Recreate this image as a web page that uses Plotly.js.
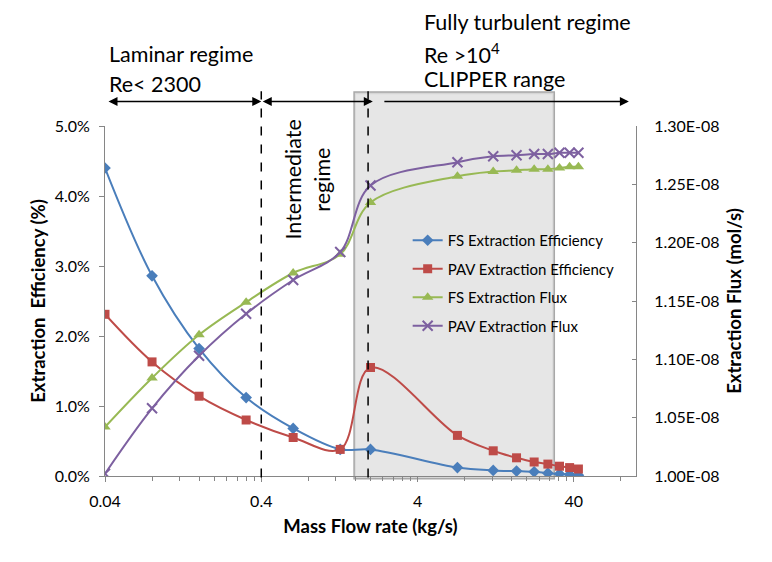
<!DOCTYPE html>
<html>
<head>
<meta charset="utf-8">
<script src="https://cdn.plot.ly/plotly-3.0.1.min.js"></script>
<style>
  body { margin: 0; background: #fff; }
  #chart { width: 772px; height: 562px; }
</style>
</head>
<body>
<div id="chart"></div>
<script>
// mass flow rate (kg/s)
var flowRate = [0.04, 0.08, 0.16, 0.32, 0.64, 1.28, 2.0, 7.2, 12.2, 17.2, 22.3, 27.3, 32.4, 37.6, 42.8];

// extraction efficiency (%)
var fsEff  = [4.40, 2.86, 1.82, 1.12, 0.68, 0.38, 0.38, 0.12, 0.08, 0.07, 0.06, 0.04, 0.03, 0.02, 0.01];
var pavEff = [2.31, 1.63, 1.14, 0.80, 0.55, 0.38, 1.55, 0.58, 0.36, 0.26, 0.20, 0.17, 0.14, 0.12, 0.10];

// extraction flux (mol/s)
var fsFlux  = [1.042e-8, 1.084e-8, 1.121e-8, 1.149e-8, 1.174e-8, 1.190e-8, 1.2345e-8, 1.257e-8,
               1.261e-8, 1.262e-8, 1.263e-8, 1.263e-8, 1.264e-8, 1.265e-8, 1.265e-8];
var pavFlux = [1.002e-8, 1.058e-8, 1.103e-8, 1.139e-8, 1.168e-8, 1.192e-8, 1.249e-8, 1.269e-8,
               1.274e-8, 1.275e-8, 1.276e-8, 1.276e-8, 1.277e-8, 1.277e-8, 1.277e-8];

// tick labels
var xTickVals = [0.04, 0.4, 4, 40];
var xTickText = ['0.04', '0.4', '4', '40'];
var effTickVals = [0, 1, 2, 3, 4, 5];
var effTickText = ['0.0%', '1.0%', '2.0%', '3.0%', '4.0%', '5.0%'];
var fluxTickVals = [1.00e-8, 1.05e-8, 1.10e-8, 1.15e-8, 1.20e-8, 1.25e-8, 1.30e-8];
var fluxTickText = ['1.00E-08', '1.05E-08', '1.10E-08', '1.15E-08', '1.20E-08', '1.25E-08', '1.30E-08'];

var FONT = 'Lato, "Open Sans", sans-serif';
var AXIS = '#868686';

// minor ticks like excel: multiples of each major value
var minorVals = [];
xTickVals.forEach(function (m) {
    for (var k = 2; k <= 9; k++) minorVals.push(m * k);
});

var traces = [
    {
        x: flowRate, y: fsEff, name: 'FS Extraction Efficiency',
        type: 'scatter', mode: 'lines+markers', legendgroup: 'a',
        line: {color: '#4a7ebb', width: 2, shape: 'spline'},
        marker: {symbol: 'diamond', size: 9, color: '#4a7ebb'}
    },
    {
        x: flowRate, y: pavEff, name: 'PAV Extraction Efficiency',
        type: 'scatter', mode: 'lines+markers', legendgroup: 'b',
        line: {color: '#be4b48', width: 2, shape: 'spline'},
        marker: {symbol: 'square', size: 9, color: '#be4b48'}
    },
    {
        x: flowRate, y: fsFlux, name: 'FS Extraction Flux', yaxis: 'y2',
        type: 'scatter', mode: 'lines+markers', legendgroup: 'c',
        line: {color: '#98b954', width: 2, shape: 'spline'},
        marker: {symbol: 'triangle-up', size: 10, color: '#98b954'}
    },
    {
        x: flowRate, y: pavFlux, name: 'PAV Extraction Flux', yaxis: 'y2',
        type: 'scatter', mode: 'lines+markers', legendgroup: 'd',
        line: {color: '#7d60a0', width: 2, shape: 'spline'},
        marker: {symbol: 'x-thin', size: 10, color: '#7d60a0', line: {color: '#7d60a0', width: 2}}
    }
];

var dash = {color: '#000', width: 1.5, dash: 'dash'};
var lg = Math.log10;  // annotations on a log axis take log positions

function arrow(from, to, both) {
    return {xref: 'x', yref: 'paper', x: lg(to), y: 1.07, axref: 'x', ayref: 'pixel', ax: lg(from), ay: 0,
            text: '', showarrow: true, arrowside: both ? 'end+start' : 'end',
            arrowhead: 2, arrowsize: 1.2, arrowwidth: 1.5, arrowcolor: '#000', standoff: 0, startstandoff: 0};
}

var layout = {
    width: 772,
    height: 562,
    margin: {l: 105, r: 136, t: 126, b: 86},
    paper_bgcolor: '#fff',
    plot_bgcolor: '#fff',
    font: {family: FONT, size: 16, color: '#000'},
    showlegend: true,
    legend: {
        x: 0.57, y: 0.72, xanchor: 'left', yanchor: 'top',
        bgcolor: 'rgba(0,0,0,0)', tracegroupgap: 6,
        font: {family: FONT, size: 15, color: '#000'}
    },
    xaxis: {
        type: 'log',
        range: [Math.log10(0.04), 2],
        showline: true, linecolor: AXIS, linewidth: 1,
        ticks: 'outside', ticklen: 5, tickcolor: AXIS, ticklabelstandoff: 6,
        tickmode: 'array', tickvals: xTickVals, ticktext: xTickText,
        minor: {tickmode: 'array', tickvals: minorVals, ticks: 'outside', ticklen: 4, tickcolor: AXIS, showgrid: false},
        showgrid: false, zeroline: false,
        title: {text: '<b>Mass Flow rate (kg/s)</b>', font: {size: 18.5}, standoff: 10}
    },
    yaxis: {
        range: [0, 5],
        showline: true, linecolor: AXIS, linewidth: 1,
        ticks: 'outside', ticklen: 5, tickcolor: AXIS, ticklabelstandoff: 6,
        tickmode: 'array', tickvals: effTickVals, ticktext: effTickText,
        showgrid: false, zeroline: false,
        title: {text: '<b>Extraction  Efficiency (%)</b>', font: {size: 18.5}, standoff: 4}
    },
    yaxis2: {
        overlaying: 'y', side: 'right',
        range: [1.0e-8, 1.3e-8],
        showline: true, linecolor: AXIS, linewidth: 1,
        ticks: 'inside', ticklen: 4, tickcolor: AXIS, ticklabelstandoff: 14,
        tickmode: 'array', tickvals: fluxTickVals, ticktext: fluxTickText,
        showgrid: false, zeroline: false,
        title: {text: '<b>Extraction Flux (mol/s)</b>', font: {size: 18.5}, standoff: 9}
    },
    shapes: [
        // CLIPPER range box, with a darker rim to look like the bevelled excel shape
        {type: 'rect', layer: 'below', xref: 'x', yref: 'paper',
         x0: 1.57, x1: 30, y0: -0.008, y1: 1.097,
         fillcolor: '#d6d6d6', line: {color: '#a8a8a8', width: 1.5}},
        {type: 'rect', layer: 'below', xref: 'x', yref: 'paper',
         x0: 1.61, x1: 29.2, y0: -0.001, y1: 1.091,
         fillcolor: '#e6e6e6', line: {width: 0}},
        {type: 'line', xref: 'x', yref: 'paper', x0: 0.4, x1: 0.4, y0: -0.004, y1: 1.099, line: dash},
        {type: 'line', xref: 'x', yref: 'paper', x0: 1.93, x1: 1.93, y0: -0.004, y1: 1.099, line: dash}
    ],
    annotations: [
        {xref: 'paper', yref: 'paper', x: 0.004, y: 1.205, xanchor: 'left', yanchor: 'middle',
         text: 'Laminar regime', showarrow: false, font: {size: 21.5}},
        {xref: 'paper', yref: 'paper', x: 0.004, y: 1.119, xanchor: 'left', yanchor: 'middle',
         text: 'Re< 2300', showarrow: false, font: {size: 21.5}},
        {xref: 'paper', yref: 'paper', x: 0.597, y: 1.297, xanchor: 'left', yanchor: 'middle',
         text: 'Fully turbulent regime', showarrow: false, font: {size: 21.5}},
        {xref: 'paper', yref: 'paper', x: 0.597, y: 1.208, xanchor: 'left', yanchor: 'middle',
         text: 'Re >10<sup>4</sup>', showarrow: false, font: {size: 21.5}},
        {xref: 'paper', yref: 'paper', x: 0.597, y: 1.133, xanchor: 'left', yanchor: 'middle',
         text: 'CLIPPER range', showarrow: false, font: {size: 21.5}},
        {xref: 'paper', yref: 'paper', x: 0.354, y: 0.847, xanchor: 'center', yanchor: 'middle', textangle: -90,
         text: 'Intermediate', showarrow: false, font: {size: 21.5}},
        {xref: 'paper', yref: 'paper', x: 0.407, y: 0.847, xanchor: 'center', yanchor: 'middle', textangle: -90,
         text: 'regime', showarrow: false, font: {size: 21.5}},
        // regime arrows
        arrow(0.0412, 0.4, true),
        arrow(0.4, 2.07, true),
        arrow(2.4, 90, false)
    ]
};

Plotly.newPlot('chart', traces, layout, {displayModeBar: false, staticPlot: true});
</script>
</body>
</html>
